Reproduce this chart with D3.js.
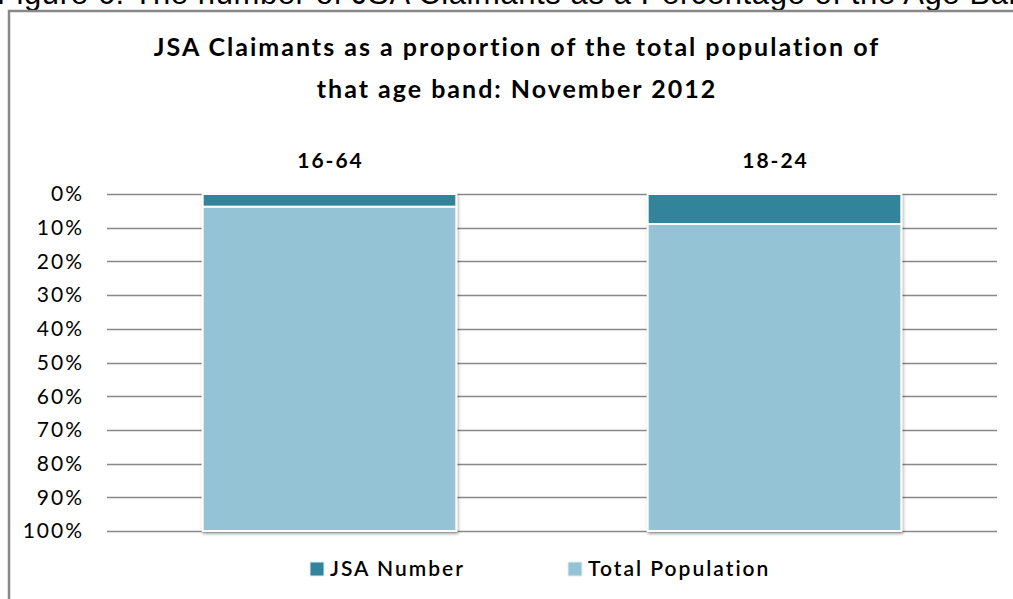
<!DOCTYPE html>
<html lang="en">
<head>
    <meta charset="UTF-8">
    <script src="https://cdnjs.cloudflare.com/ajax/libs/d3/7.8.5/d3.min.js"></script>
    <title>JSA Claimants</title>
    <style>
        body { margin: 0; background: #fff; }
        text { font-family: Lato, "Open Sans", sans-serif; fill: #000; letter-spacing: 2px; }
    </style>
</head>
<body>
    <script>
        var categories = ['16-64', '18-24'];
        var jsaNumber = [3.8, 8.9];
        var totalPopulation = [96.2, 91.1];
        var seriesNames = ['JSA Number', 'Total Population'];
        var tickLabels = ['0%','10%','20%','30%','40%','50%','60%','70%','80%','90%','100%'];

        var width = 1013, height = 599;
        var colors = ['#31849b', '#93c3d4'];

        var rows = categories.map(function(c, i){
            return {cat: c, 'JSA Number': jsaNumber[i], 'Total Population': totalPopulation[i]};
        });

        var svg = d3.select('body').append('svg')
                    .attr('width', width)
                    .attr('height', height);

        var defs = svg.append('defs');
        var f = defs.append('filter').attr('id','shadow')
                    .attr('x','-5%').attr('y','-5%').attr('width','110%').attr('height','110%');
        f.append('feDropShadow').attr('dx',1).attr('dy',2).attr('stdDeviation',1.5)
                    .attr('flood-color','#000').attr('flood-opacity',0.35);

        // figure caption, cut off by the top edge as in the source
        svg.append('text')
            .attr('x', -3).attr('y', 4)
            .style('font-family', '"Liberation Sans", Arial, sans-serif')
            .style('font-size', '31px').style('letter-spacing', '0.6px')
            .text('Figure 6: The number of JSA Claimants as a Percentage of the Age Band');

        // chart frame
        svg.append('path')
            .attr('d', 'M9,' + height + 'V11H' + width)
            .attr('fill','none').attr('stroke','#888').attr('stroke-width',2.5);

        var x = d3.scaleBand().domain(categories).range([107, 997])
                    .paddingInner(0.43).paddingOuter(0.215);
        var y = d3.scaleLinear().domain([0, 100]).range([194, 531]);

        // gridlines
        var tickVals = tickLabels.map(function(t){ return parseFloat(t); });
        svg.append('g').selectAll('line').data(tickVals).enter().append('line')
            .attr('x1', 107).attr('x2', 997)
            .attr('y1', function(d){ return Math.round(y(d)) + 0.5; })
            .attr('y2', function(d){ return Math.round(y(d)) + 0.5; })
            .attr('stroke', '#888').attr('stroke-width', 1.5);

        // y labels
        svg.append('g').selectAll('text').data(tickVals).enter().append('text')
            .attr('x', 84).attr('y', function(d){ return y(d); })
            .attr('dy', '0.35em').attr('text-anchor','end')
            .style('font-size', '21px')
            .text(function(d, i){ return tickLabels[i]; });

        // category labels on top
        svg.append('g').selectAll('text').data(categories).enter().append('text')
            .attr('x', function(d){ return x(d) + x.bandwidth()/2 + 1; })
            .attr('y', 168).attr('text-anchor','middle')
            .style('font-size', '21px').style('font-weight','bold')
            .text(function(d){ return d; });

        // stacked bars
        var stack = d3.stack().keys(seriesNames)(rows);
        var groups = svg.append('g').attr('filter','url(#shadow)')
            .selectAll('g').data(stack).enter().append('g')
            .attr('fill', function(d, i){ return colors[i]; });
        groups.selectAll('rect').data(function(d){ return d; }).enter().append('rect')
            .attr('x', function(d){ return x(d.data.cat); })
            .attr('width', x.bandwidth())
            .attr('y', function(d){ return y(d[0]); })
            .attr('height', function(d){ return y(d[1]) - y(d[0]); })
            .attr('stroke', '#fff').attr('stroke-width', 2);

        // title
        var title = svg.append('text').attr('text-anchor','middle')
            .style('font-size', '25px').style('font-weight','bold');
        title.append('tspan').attr('x', 517).attr('y', 56)
            .text('JSA Claimants as a proportion of the total population of');
        title.append('tspan').attr('x', 517).attr('y', 98)
            .text('that age band: November 2012');

        // legend
        var legendX = [310, 568];
        var leg = svg.append('g').selectAll('g').data(seriesNames).enter().append('g')
            .attr('transform', function(d, i){ return 'translate(' + legendX[i] + ',562)'; });
        leg.append('rect').attr('width', 14).attr('height', 14)
            .attr('fill', function(d, i){ return colors[i]; })
            .attr('stroke', '#e6eef2').attr('stroke-width', 1);
        leg.append('text').attr('x', 20).attr('y', 14)
            .style('font-size', '21px').style('font-weight', '600')
            .text(function(d){ return d; });
    </script>
</body>
</html>
